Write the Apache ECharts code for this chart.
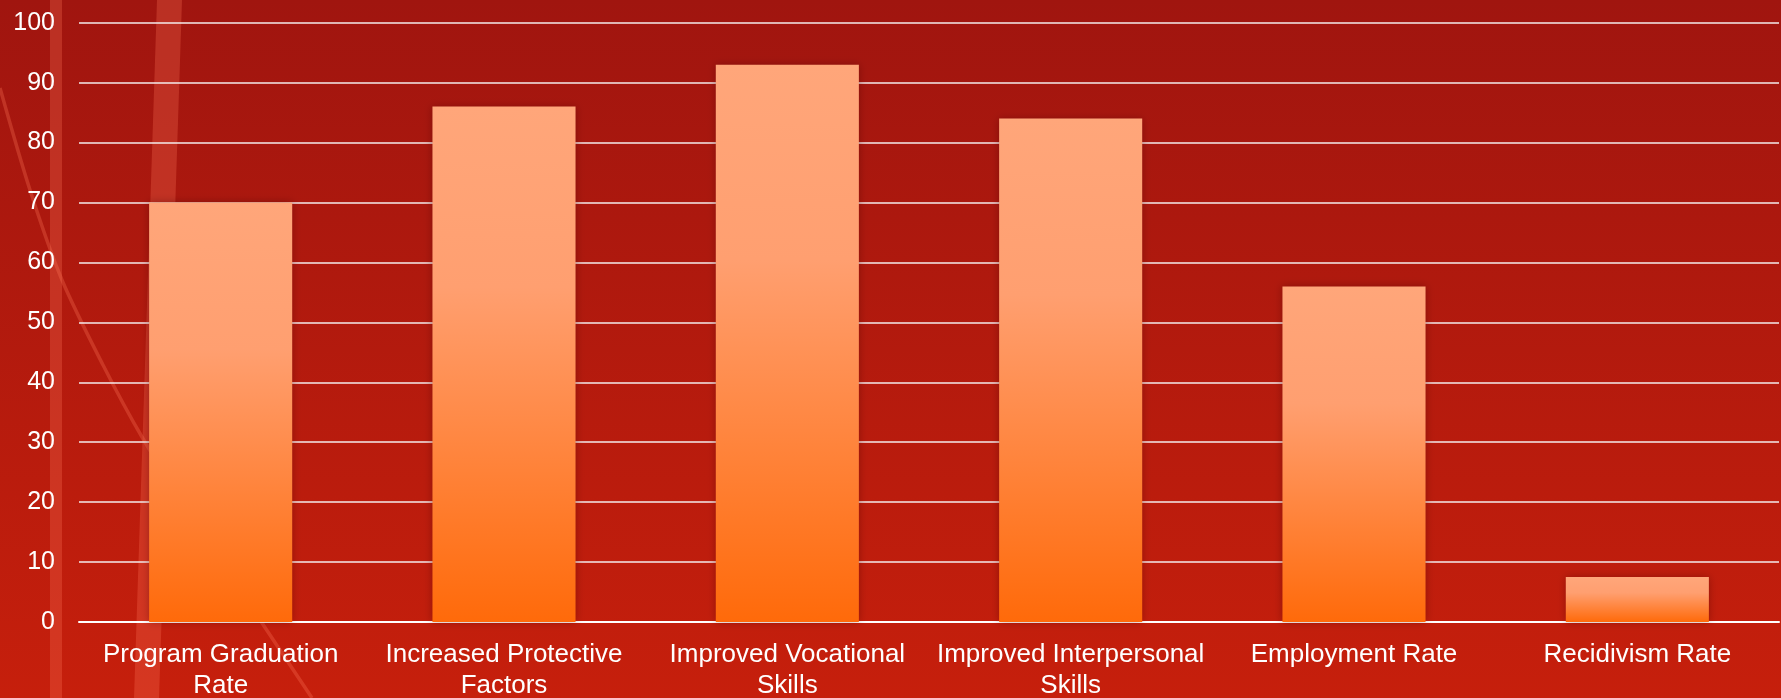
<!DOCTYPE html>
<html>
<head>
<meta charset="utf-8">
<script src="https://cdn.jsdelivr.net/npm/echarts@6/dist/echarts.min.js"></script>
<style>
html,body{margin:0;padding:0;width:1781px;height:698px;overflow:hidden;}
#chart{width:1781px;height:698px;}
</style>
</head>
<body>
<div id="chart"></div>
<script>
const categories = ['Program Graduation\nRate', 'Increased Protective\nFactors', 'Improved Vocational\nSkills', 'Improved Interpersonal\nSkills', 'Employment Rate', 'Recidivism Rate'];
const values = [70, 86, 93, 84, 56, 7.5];
const yTicks = [0, 10, 20, 30, 40, 50, 60, 70, 80, 90, 100];

const chart = echarts.init(document.getElementById('chart'));
chart.setOption({
  animation: false,
  backgroundColor: {
    type: 'linear', x: 0, y: 0, x2: 0, y2: 1,
    colorStops: [{offset: 0, color: '#A0150F'}, {offset: 1, color: '#C61F0C'}]
  },
  graphic: [
    {type: 'rect', z: -10, silent: true, shape: {x: 50, y: 0, width: 12, height: 698}, style: {fill: 'rgba(255,120,90,0.28)'}},
    {type: 'polygon', z: -10, silent: true, shape: {points: [[157,0],[182,0],[159,698],[134,698]]}, style: {fill: 'rgba(255,120,90,0.28)'}},
    {type: 'polyline', z: -10, silent: true,
      shape: {points: [[0,88],[30,190],[62,280],[103,365],[142,437],[200,530],[262,623],[312,698]], smooth: 0.3},
      style: {stroke: 'rgba(255,120,90,0.3)', lineWidth: 3.5, fill: null}}
  ],
  grid: {left: 79, right: 2, top: 22.7, bottom: 76, containLabel: false, outerBoundsMode: 'none'},
  xAxis: {
    type: 'category',
    data: categories,
    axisLine: {show: true, lineStyle: {color: '#ffffff', width: 2}},
    axisTick: {show: false},
    axisLabel: {color: '#ffffff', fontSize: 26, fontFamily: 'Liberation Sans, Arial, sans-serif', lineHeight: 31, margin: 17, interval: 0}
  },
  yAxis: {
    type: 'value',
    min: 0, max: 100, interval: 10,
    axisLine: {show: false},
    axisTick: {show: false},
    splitLine: {show: true, lineStyle: {color: '#F4ECEC', width: 1.5}},
    axisLabel: {color: '#ffffff', fontSize: 25, fontFamily: 'Liberation Sans, Arial, sans-serif', margin: 24,
      formatter: function (v) { return yTicks.indexOf(v) >= 0 ? String(v) : ''; }}
  },
  series: [{
    type: 'bar',
    data: values,
    barWidth: '50.5%',
    itemStyle: {
      color: {
        type: 'linear', x: 0, y: 0, x2: 0, y2: 1,
        colorStops: [{offset: 0, color: '#FFA67A'}, {offset: 0.35, color: '#FF9F70'}, {offset: 1, color: '#FF6A0A'}]
      },
      shadowBlur: 8,
      shadowColor: 'rgba(60,0,0,0.35)',
      shadowOffsetX: 0,
      shadowOffsetY: 0
    }
  }]
});
</script>
</body>
</html>
